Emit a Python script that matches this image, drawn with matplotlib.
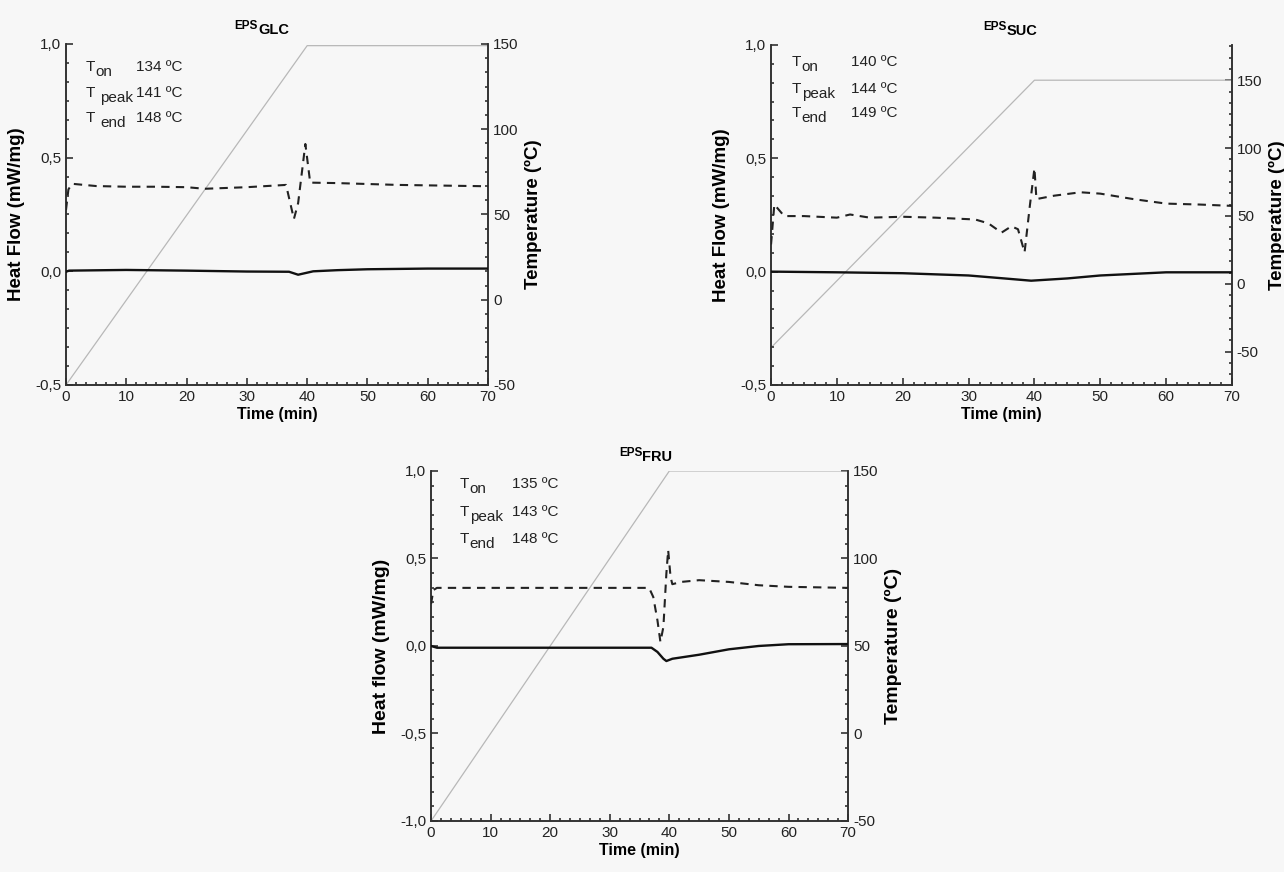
import matplotlib
matplotlib.use("Agg")
import matplotlib.pyplot as plt
from matplotlib.ticker import AutoMinorLocator, MultipleLocator, FuncFormatter

plt.rcParams['font.family'] = ['Liberation Sans', 'DejaVu Sans']
plt.rcParams['axes.unicode_minus'] = False

# ---- data ----
# temperature programme (right axis)
t_temp = [0, 40, 70]
temp_glc = [-50, 149, 149]
temp_suc = [-47, 150, 150]
temp_fru = [-50, 150, 150]

# EPS GLC
t_glc = [0, 0.4, 1, 5, 10, 15, 20, 23, 30, 36.5, 37.8, 38.5, 39.7, 40.5, 45, 55, 70]
dash_glc = [0.27, 0.36, 0.385, 0.375, 0.372, 0.372, 0.37, 0.363, 0.37, 0.38, 0.23, 0.30, 0.56, 0.39, 0.388, 0.38, 0.374]
t_glc_s = [0, 0.5, 10, 20, 30, 37, 38.5, 40, 41, 45, 50, 60, 70]
hf_glc = [-0.002, 0.003, 0.006, 0.003, -0.001, -0.002, -0.015, -0.006, 0.0, 0.005, 0.009, 0.012, 0.012]

# EPS SUC
t_suc = [0, 0.5, 2, 5, 10, 12, 15, 20, 25, 31, 33, 35, 36.5, 37.5, 38.5, 39.3, 40, 40.3, 43, 47, 50, 55, 60, 65, 70]
dash_suc = [0.12, 0.296, 0.245, 0.245, 0.238, 0.252, 0.238, 0.242, 0.238, 0.23, 0.213, 0.172, 0.20, 0.187,
            0.085, 0.29, 0.456, 0.32, 0.335, 0.35, 0.344, 0.32, 0.30, 0.296, 0.29]
t_suc_s = [0, 10, 20, 30, 35, 39.5, 45, 50, 55, 60, 70]
hf_suc = [0.0, -0.003, -0.007, -0.017, -0.029, -0.04, -0.03, -0.017, -0.01, -0.003, -0.003]

# EPS FRU
t_fru = [0, 0.4, 1, 36.6, 37.3, 38, 38.5, 39, 39.5, 39.8, 40.2, 40.5, 42, 45, 50, 55, 60, 70]
dash_fru = [0.24, 0.32, 0.332, 0.332, 0.28, 0.147, 0.023, 0.109, 0.414, 0.548, 0.395, 0.353, 0.366, 0.376,
            0.366, 0.347, 0.338, 0.332]
t_fru_s = [0, 1, 36, 37, 38, 39, 39.5, 40.5, 45, 50, 55, 60, 70]
hf_fru = [0.0, -0.01, -0.01, -0.01, -0.034, -0.073, -0.086, -0.073, -0.05, -0.019, 0.0, 0.01, 0.011]

BG = '#f7f7f7'
INK = '#222222'
comma = FuncFormatter(lambda v, p: ('%.1f' % v).replace('.', ','))


def panel(rect, sub, t_d, d, t_s, s, temp, ylim, tlim, ylabel, lab_fs, title_x, ann_x, ann_y, ann, gap):
    ax = fig.add_axes(rect)
    ax2 = ax.twinx()
    ax.plot(t_s, s, color='#111111', lw=1.7, zorder=3)
    ax.plot(t_d, d, color=INK, lw=1.5, ls=(0, (4, 3)), zorder=3)
    ax2.plot(t_temp, temp, color='#b8b8b8', lw=0.9)
    ax.set_xlim(0, 70)
    ax.set_ylim(*ylim)
    ax2.set_ylim(*tlim)
    ax.set_zorder(ax2.get_zorder() + 1)
    ax.patch.set_visible(False)
    ax2.patch.set_facecolor(BG)

    ax.xaxis.set_major_locator(MultipleLocator(10))
    ax.yaxis.set_major_locator(MultipleLocator(0.5))
    ax.yaxis.set_major_formatter(comma)
    ax2.yaxis.set_major_locator(MultipleLocator(50))
    for a in (ax.xaxis, ax.yaxis, ax2.yaxis):
        a.set_minor_locator(AutoMinorLocator(6))
    for a in (ax, ax2):
        a.tick_params(which='both', direction='in', colors=INK, labelsize=11, width=1.1)
        a.tick_params(which='major', length=5)
        a.tick_params(which='minor', length=2.5)
        a.spines['top'].set_visible(False)
        for sp in a.spines.values():
            sp.set_linewidth(1.2)
            sp.set_color('#333333')
    ax.tick_params(axis='both', which='both', right=False, top=False)

    ax.set_xlabel('Time (min)', fontsize=11.5, fontweight='bold', labelpad=2)
    ax.set_ylabel(ylabel, fontsize=lab_fs, fontweight='bold', labelpad=7)
    ax2.set_ylabel('Temperature (ºC)', fontsize=lab_fs, fontweight='bold', labelpad=5)

    ax.annotate('EPS', xy=(title_x, 1), xycoords='axes fraction', xytext=(0, 11),
                textcoords='offset points', ha='right', va='baseline', fontsize=8.5, fontweight='bold')
    ax.annotate(sub, xy=(title_x, 1), xycoords='axes fraction', xytext=(0, 7),
                textcoords='offset points', ha='left', va='baseline', fontsize=10.5, fontweight='bold')

    subs = ['on', 'peak', 'end']
    for i, (nm, val, y) in enumerate(zip(subs, ann, ann_y)):
        ax.text(ann_x[0], y, 'T', transform=ax.transAxes, fontsize=11, va='baseline', color=INK)
        dx = 7.2 + (gap if i > 0 else 0)
        ax.annotate(nm, xy=(ann_x[0], y), xycoords='axes fraction', xytext=(dx, -3.6),
                    textcoords='offset points', fontsize=11, va='baseline', color=INK)
        ax.text(ann_x[1], y, val, transform=ax.transAxes, fontsize=11, va='baseline', color=INK)
    return ax


fig = plt.figure(figsize=(12.84, 8.72), dpi=100, facecolor=BG)

panel([0.0514, 0.5585, 0.3287, 0.3911], 'GLC', t_glc, dash_glc, t_glc_s, hf_glc, temp_glc,
      (-0.5, 1.0), (-50, 150), 'Heat Flow (mW/mg)', 13.5, 0.455, (0.047, 0.166), (0.921, 0.845, 0.771),
      ['134 ºC', '141 ºC', '148 ºC'], 3.0)
panel([0.6005, 0.5585, 0.359, 0.390], 'SUC', t_suc, dash_suc, t_suc_s, hf_suc, temp_suc,
      (-0.5, 1.0), (-74.5, 176), 'Heat Flow (mW/mg)', 13.5, 0.51, (0.045, 0.173), (0.939, 0.860, 0.787),
      ['140 ºC', '144 ºC', '149 ºC'], 0.0)
panel([0.3357, 0.0585, 0.3248, 0.4014], 'FRU', t_fru, dash_fru, t_fru_s, hf_fru, temp_fru,
      (-1.0, 1.0), (-50, 150), 'Heat flow (mW/mg)', 14, 0.507, (0.069, 0.193), (0.951, 0.871, 0.794),
      ['135 ºC', '143 ºC', '148 ºC'], 0.0)

fig.savefig('out.png', dpi=100, facecolor=BG)
